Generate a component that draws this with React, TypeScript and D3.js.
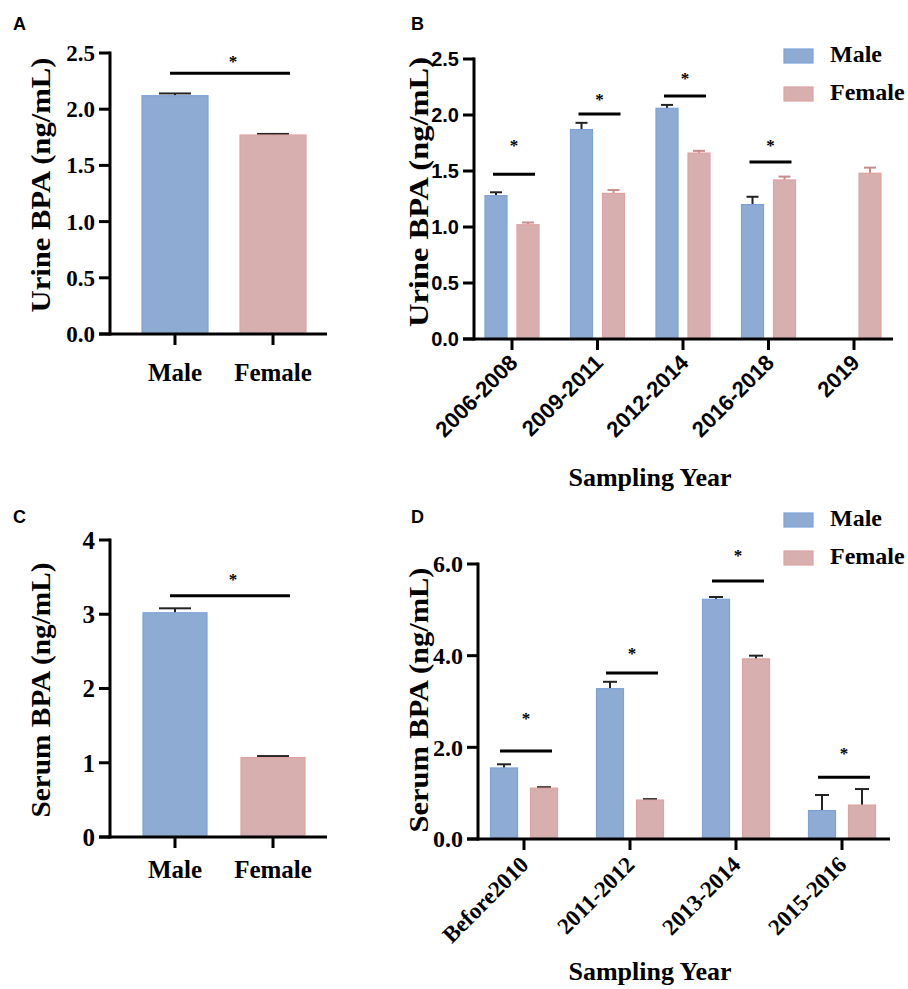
import React from 'react';
import * as d3 from 'd3';

// ---- data ----
const sexes = ['Male', 'Female'];

// A: urine BPA by sex
const urineBySex = [2.12, 1.77];
const urineBySexErr = [0.02, 0.01];
const urineBySexSig = 2.32;
const urineBySexStar = 2.44;

// B: urine BPA by sampling year
const urineYears = ['2006-2008', '2009-2011', '2012-2014', '2016-2018', '2019'];
const urineMale = [1.28, 1.87, 2.06, 1.2, null];
const urineMaleErr = [0.03, 0.06, 0.03, 0.07, null];
const urineFemale = [1.02, 1.3, 1.66, 1.42, 1.48];
const urineFemaleErr = [0.02, 0.03, 0.02, 0.03, 0.05];
const urineYearSig = [1.47, 2.01, 2.17, 1.58, null];
const urineYearStar = [1.74, 2.15, 2.34, 1.74, null];

// C: serum BPA by sex
const serumBySex = [3.02, 1.07];
const serumBySexErr = [0.06, 0.02];
const serumBySexSig = 3.25;
const serumBySexStar = 3.49;

// D: serum BPA by sampling year
const serumYears = ['Before2010', '2011-2012', '2013-2014', '2015-2016'];
const serumMale = [1.55, 3.28, 5.23, 0.62];
const serumMaleErr = [0.08, 0.15, 0.05, 0.34];
const serumFemale = [1.11, 0.85, 3.93, 0.74];
const serumFemaleErr = [0.02, 0.02, 0.07, 0.35];
const serumYearSig = [1.92, 3.62, 5.63, 1.35];
const serumYearStar = [2.66, 4.08, 6.22, 1.9];

const BLUE = '#8eacd3';
const BLUE_EDGE = '#7da2d8';
const PINK = '#d7afae';
const PINK_EDGE = '#dfa2a2';
const SERIF = '"Liberation Serif", "Times New Roman", serif';
const SANS = '"Liberation Sans", Arial, sans-serif';
const TICK_LEN = 11;

type Series = {
  name: string;
  values: (number | null)[];
  errs: (number | null)[];
  fill: string;
  stroke: string;
  errColor: string;
};

type AxesProps = {
  letter: string;
  letterX: number;
  letterY: number;
  cats: string[];
  x: d3.ScalePoint<string>;
  y: d3.ScaleLinear<number, number>;
  axisX: number;
  xEnd: number;
  yTickStep: number;
  yFmt: string;
  yFont: string;
  yFontSize: number;
  yTitle: string;
  yTitleX: number;
  yTitleY: number;
  yTitleLen: number;
  xLabelStyle: 'flat' | 'rotated';
  xFont: string;
  xFontSize: number;
  xLabelDy: number;
  xLabelDx: number;
  xTitle?: string;
  xTitleX?: number;
  xTitleY?: number;
};

function Axes(p: AxesProps) {
  const [y0, yTop] = p.y.range();
  const ticks = d3.range(0, p.y.domain()[1] + 1e-9, p.yTickStep);
  const fmt = d3.format(p.yFmt);
  return (
    <g>
      <text x={p.letterX} y={p.letterY} fontFamily={SANS} fontWeight="bold" fontSize={18}>
        {p.letter}
      </text>
      <line x1={p.axisX} x2={p.axisX} y1={yTop - 1.5} y2={y0 + 1.5} stroke="#000" strokeWidth={3} />
      {ticks.map((t) => (
        <g key={'yt' + t}>
          <line x1={p.axisX - TICK_LEN} x2={p.axisX} y1={p.y(t)} y2={p.y(t)} stroke="#000" strokeWidth={3} />
          <text
            x={p.axisX - TICK_LEN - 4}
            y={p.y(t)}
            dy="0.35em"
            textAnchor="end"
            fontFamily={p.yFont}
            fontWeight="bold"
            fontSize={p.yFontSize}
          >
            {fmt(t)}
          </text>
        </g>
      ))}
      <text
        transform={`translate(${p.yTitleX},${p.yTitleY}) rotate(-90)`}
        textAnchor="middle"
        dy="0.35em"
        fontFamily={SERIF}
        fontWeight="bold"
        fontSize={28}
        textLength={p.yTitleLen}
        lengthAdjust="spacingAndGlyphs"
      >
        {p.yTitle}
      </text>
      <line x1={p.axisX - TICK_LEN} x2={p.xEnd} y1={y0} y2={y0} stroke="#000" strokeWidth={3} />
      {p.cats.map((c) => {
        const cx = p.x(c) as number;
        return (
          <g key={'xt' + c}>
            <line x1={cx} x2={cx} y1={y0} y2={y0 + TICK_LEN} stroke="#000" strokeWidth={3} />
            {p.xLabelStyle === 'flat' ? (
              <text x={cx} y={y0 + p.xLabelDy} textAnchor="middle" fontFamily={p.xFont} fontWeight="bold" fontSize={p.xFontSize}>
                {c}
              </text>
            ) : (
              <text
                transform={`translate(${cx + p.xLabelDx},${y0 + p.xLabelDy}) rotate(-45)`}
                textAnchor="end"
                fontFamily={p.xFont}
                fontWeight="bold"
                fontSize={p.xFontSize}
              >
                {c}
              </text>
            )}
          </g>
        );
      })}
      {p.xTitle && (
        <text x={p.xTitleX} y={p.xTitleY} textAnchor="middle" fontFamily={SERIF} fontWeight="bold" fontSize={26}>
          {p.xTitle}
        </text>
      )}
    </g>
  );
}

function ErrBar({ cx, y1, y2, cap, color }: { cx: number; y1: number; y2: number; cap: number; color: string }) {
  return (
    <g>
      <line x1={cx} x2={cx} y1={y1} y2={y2} stroke={color} strokeWidth={2} />
      <line x1={cx - cap / 2} x2={cx + cap / 2} y1={y2} y2={y2} stroke={color} strokeWidth={2} />
    </g>
  );
}

function Star({ x, y }: { x: number; y: number }) {
  return (
    <text x={x} y={y + 7} textAnchor="middle" fontFamily={SERIF} fontWeight="bold" fontSize={17}>
      *
    </text>
  );
}

// panels A and C: one bar per sex
function SexPanel(props: {
  letter: string; letterY: number; vals: number[]; errs: number[]; sig: number; star: number;
  yTop: number; yBottom: number; yMax: number; yTickStep: number; yFmt: string; yFontSize: number;
  barWidth: number; yTitle: string; yTitleY: number; yTitleLen: number; xLabelDy: number;
}) {
  const y = d3.scaleLinear().domain([0, props.yMax]).range([props.yBottom, props.yTop]);
  const x = d3.scalePoint<string>().domain(sexes).range([175, 273]);
  const colors = [BLUE, PINK];
  const edges = [BLUE_EDGE, PINK_EDGE];
  const mid = ((x('Male') as number) + (x('Female') as number)) / 2 + 6;
  return (
    <g>
      {sexes.map((c, i) => {
        const cx = x(c) as number;
        const v = props.vals[i];
        return (
          <g key={c}>
            <ErrBar cx={cx} y1={y(v)} y2={y(v + props.errs[i])} cap={32} color="#222" />
            <rect x={cx - props.barWidth / 2} y={y(v)} width={props.barWidth} height={y(0) - y(v)} fill={colors[i]} stroke={edges[i]} strokeWidth={1.2} />
          </g>
        );
      })}
      <line x1={mid - 60} x2={mid + 60} y1={y(props.sig)} y2={y(props.sig)} stroke="#000" strokeWidth={3} />
      <Star x={mid + 3} y={y(props.star)} />
      <Axes
        letter={props.letter}
        letterX={13}
        letterY={props.letterY}
        cats={sexes}
        x={x}
        y={y}
        axisX={110}
        xEnd={327}
        yTickStep={props.yTickStep}
        yFmt={props.yFmt}
        yFont={SERIF}
        yFontSize={props.yFontSize}
        yTitle={props.yTitle}
        yTitleX={40}
        yTitleY={props.yTitleY}
        yTitleLen={props.yTitleLen}
        xLabelStyle="flat"
        xFont={SERIF}
        xFontSize={25}
        xLabelDy={props.xLabelDy}
        xLabelDx={0}
      />
    </g>
  );
}

// panels B and D: grouped bars by sampling year
function YearPanel(props: {
  letter: string; letterY: number; cats: string[]; series: Series[];
  sig: (number | null)[]; star: (number | null)[];
  axisX: number; xEnd: number; yTop: number; yBottom: number; xFirst: number; xLast: number;
  yMax: number; yTickStep: number; yFont: string; yFontSize: number;
  barWidth: number; barOffset: number; capWidth: number; sigHalf: number;
  yTitle: string; yTitleY: number; yTitleLen: number;
  xFont: string; xFontSize: number; xLabelDy: number; xLabelDx: number; xTitleY: number;
  legendY: number;
}) {
  const y = d3.scaleLinear().domain([0, props.yMax]).range([props.yBottom, props.yTop]);
  const x = d3.scalePoint<string>().domain(props.cats).range([props.xFirst, props.xLast]);
  return (
    <g>
      {props.series.map((s, si) => (
        <g key={s.name}>
          {props.cats.map((c, ci) => {
            const v = s.values[ci];
            if (v == null) return null;
            const cx = (x(c) as number) + (si === 0 ? -props.barOffset : props.barOffset);
            const e = s.errs[ci] ?? 0;
            return (
              <g key={c}>
                <ErrBar cx={cx} y1={y(v)} y2={y(v + e)} cap={props.capWidth} color={s.errColor} />
                <rect x={cx - props.barWidth / 2} y={y(v)} width={props.barWidth} height={y(0) - y(v)} fill={s.fill} stroke={s.stroke} strokeWidth={1.2} />
              </g>
            );
          })}
        </g>
      ))}
      {props.cats.map((c, ci) => {
        const sv = props.sig[ci];
        const st = props.star[ci];
        if (sv == null || st == null) return null;
        const cx = (x(c) as number) + 2;
        return (
          <g key={'sig' + c}>
            <line x1={cx - props.sigHalf} x2={cx + props.sigHalf} y1={y(sv)} y2={y(sv)} stroke="#000" strokeWidth={3} />
            <Star x={cx} y={y(st)} />
          </g>
        );
      })}
      <Axes
        letter={props.letter}
        letterX={411}
        letterY={props.letterY}
        cats={props.cats}
        x={x}
        y={y}
        axisX={props.axisX}
        xEnd={props.xEnd}
        yTickStep={props.yTickStep}
        yFmt=".1f"
        yFont={props.yFont}
        yFontSize={props.yFontSize}
        yTitle={props.yTitle}
        yTitleX={418}
        yTitleY={props.yTitleY}
        yTitleLen={props.yTitleLen}
        xLabelStyle="rotated"
        xFont={props.xFont}
        xFontSize={props.xFontSize}
        xLabelDy={props.xLabelDy}
        xLabelDx={props.xLabelDx}
        xTitle="Sampling Year"
        xTitleX={650}
        xTitleY={props.xTitleY}
      />
      {props.series.map((s, i) => (
        <g key={'lg' + s.name} transform={`translate(784,${props.legendY + i * 38})`}>
          <rect x={0} y={0} width={29} height={14} fill={s.fill} stroke={s.stroke} strokeWidth={1.2} />
          <text x={46} y={13} fontFamily={SERIF} fontWeight="bold" fontSize={24}>
            {s.name}
          </text>
        </g>
      ))}
    </g>
  );
}

export default function App() {
  return (
    <div style={{ position: 'absolute', left: 0, top: 0 }}>
      <svg width={908} height={989} style={{ display: 'block', background: '#fff' }}>
        <SexPanel
          letter="A"
          letterY={30}
          vals={urineBySex}
          errs={urineBySexErr}
          sig={urineBySexSig}
          star={urineBySexStar}
          yTop={53}
          yBottom={334}
          yMax={2.5}
          yTickStep={0.5}
          yFmt=".1f"
          yFontSize={23}
          barWidth={66}
          yTitle="Urine BPA (ng/mL)"
          yTitleY={185}
          yTitleLen={255}
          xLabelDy={47}
        />
        <YearPanel
          letter="B"
          letterY={30}
          cats={urineYears}
          series={[
            { name: 'Male', values: urineMale, errs: urineMaleErr, fill: BLUE, stroke: BLUE_EDGE, errColor: '#222' },
            { name: 'Female', values: urineFemale, errs: urineFemaleErr, fill: PINK, stroke: PINK_EDGE, errColor: '#c98a8a' },
          ]}
          sig={urineYearSig}
          star={urineYearStar}
          axisX={474}
          xEnd={893}
          yTop={59}
          yBottom={339}
          xFirst={512}
          xLast={854}
          yMax={2.5}
          yTickStep={0.5}
          yFont={SANS}
          yFontSize={20}
          barWidth={22}
          barOffset={16}
          capWidth={12}
          sigHalf={21}
          yTitle="Urine BPA (ng/mL)"
          yTitleY={192}
          yTitleLen={270}
          xFont={SANS}
          xFontSize={22}
          xLabelDy={25}
          xLabelDx={7}
          xTitleY={486}
          legendY={49}
        />
        <SexPanel
          letter="C"
          letterY={523}
          vals={serumBySex}
          errs={serumBySexErr}
          sig={serumBySexSig}
          star={serumBySexStar}
          yTop={540}
          yBottom={837}
          yMax={4}
          yTickStep={1}
          yFmt="d"
          yFontSize={25}
          barWidth={64}
          yTitle="Serum BPA (ng/mL)"
          yTitleY={690}
          yTitleLen={255}
          xLabelDy={41}
        />
        <YearPanel
          letter="D"
          letterY={523}
          cats={serumYears}
          series={[
            { name: 'Male', values: serumMale, errs: serumMaleErr, fill: BLUE, stroke: BLUE_EDGE, errColor: '#222' },
            { name: 'Female', values: serumFemale, errs: serumFemaleErr, fill: PINK, stroke: PINK_EDGE, errColor: '#222' },
          ]}
          sig={serumYearSig}
          star={serumYearStar}
          axisX={478}
          xEnd={890}
          yTop={564}
          yBottom={839}
          xFirst={524}
          xLast={842}
          yMax={6}
          yTickStep={2}
          yFont={SERIF}
          yFontSize={24}
          barWidth={27}
          barOffset={20}
          capWidth={14}
          sigHalf={26}
          yTitle="Serum BPA (ng/mL)"
          yTitleY={700}
          yTitleLen={265}
          xFont={SERIF}
          xFontSize={23}
          xLabelDy={27}
          xLabelDx={6}
          xTitleY={980}
          legendY={513}
        />
      </svg>
    </div>
  );
}
